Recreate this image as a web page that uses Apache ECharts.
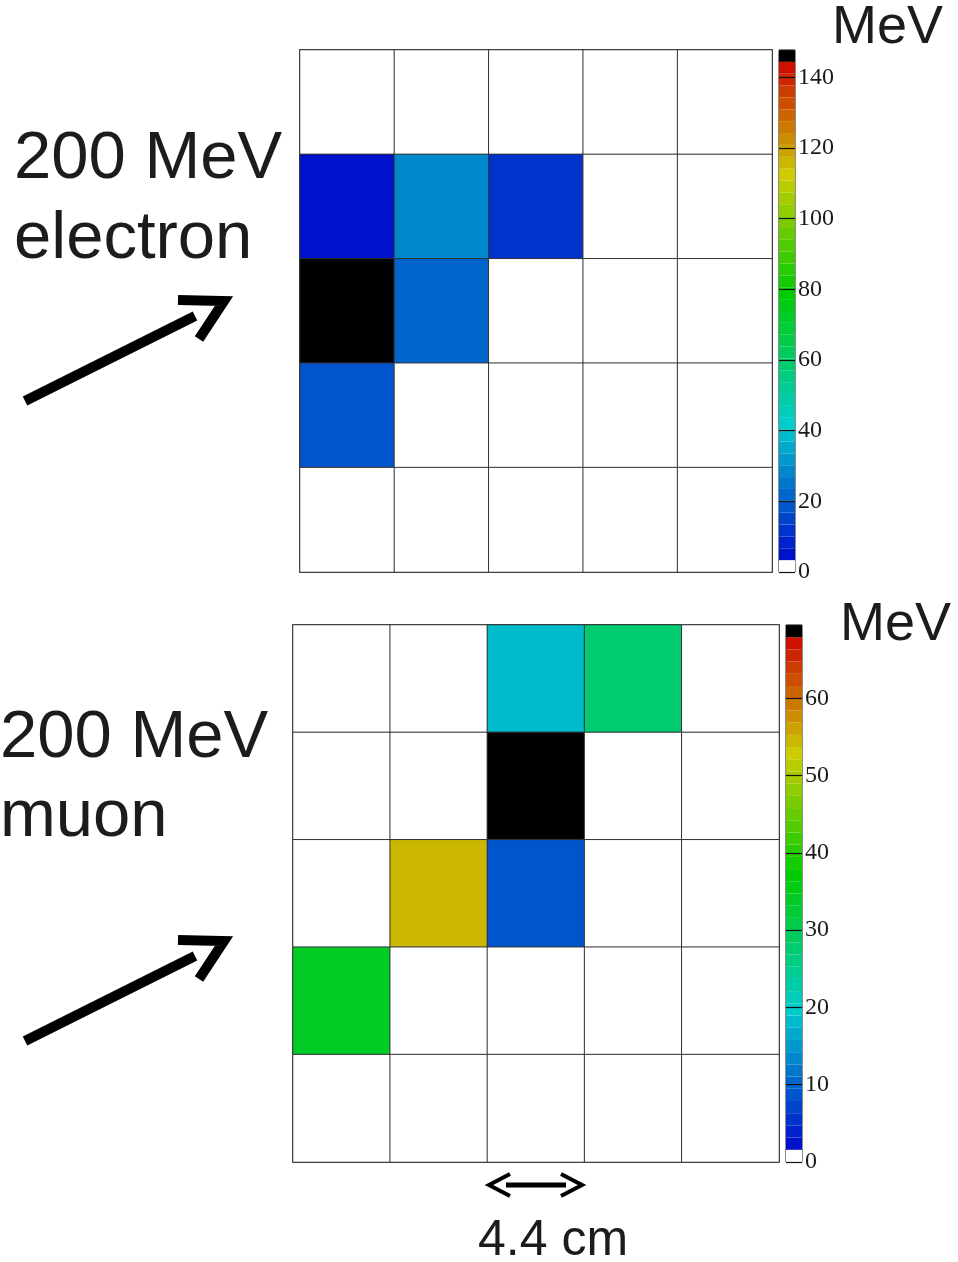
<!DOCTYPE html>
<html>
<head>
<meta charset="utf-8">
<script src="https://cdn.jsdelivr.net/npm/echarts@6/dist/echarts.min.js"></script>
<style>
  html, body { margin: 0; padding: 0; background: #ffffff; }
  #chart { width: 958px; height: 1262px; }
</style>
</head>
<body>
<div id="chart"></div>
<script>
// Calorimeter cells, 5 x 5, energy deposit in MeV (rows listed top to bottom)
const columns = ['1', '2', '3', '4', '5'];
const rows = ['1', '2', '3', '4', '5'];

const electronCells = [
  [0,     0,    0,  0, 0],
  [5,     28.5, 12, 0, 0],
  [147.7, 22,   0,  0, 0],
  [18,    0,    0,  0, 0],
  [0,     0,    0,  0, 0]
];

const muonCells = [
  [0,  0,    18.2, 27.6, 0],
  [0,  0,    69.5, 0,    0],
  [0,  54.5, 8.7,  0,    0],
  [34, 0,    0,    0,    0],
  [0,  0,    0,    0,    0]
];

const electronTicks = [0, 20, 40, 60, 80, 100, 120, 140];
const muonTicks = [0, 10, 20, 30, 40, 50, 60];

// ---- colour palette: white floor, blue -> cyan -> green -> yellow -> red, black top ----
const N_BANDS = 44;
function hsvToHex(h, s, v) {
  const c = v * s, hp = h / 60, x = c * (1 - Math.abs(hp % 2 - 1));
  let r = 0, g = 0, b = 0;
  if (hp < 1) { r = c; g = x; } else if (hp < 2) { r = x; g = c; }
  else if (hp < 3) { g = c; b = x; } else if (hp < 4) { g = x; b = c; }
  else if (hp < 5) { r = x; b = c; } else { r = c; b = x; }
  const m = v - c;
  const to = t => Math.round((t + m) * 255).toString(16).padStart(2, '0');
  return '#' + to(r) + to(g) + to(b);
}
// hue anchors along the colour bands
const hueStops = [[1, 235], [12, 180], [23, 120], [33, 60], [42, 5]];
function bandHue(k) {
  for (let i = 0; i < hueStops.length - 1; i++) {
    const [k0, h0] = hueStops[i], [k1, h1] = hueStops[i + 1];
    if (k <= k1) return h0 + (h1 - h0) * (k - k0) / (k1 - k0);
  }
  return hueStops[hueStops.length - 1][1];
}
const palette = [];
for (let k = 0; k < N_BANDS; k++) {
  if (k === 0) palette.push('#ffffff');
  else if (k === N_BANDS - 1) palette.push('#000000');
  else palette.push(hsvToHex(bandHue(k), 1, 0.8));
}

function maxOf(cells) { return Math.max(...cells.flat()); }
function bandsFor(maxVal) {
  const w = maxVal / N_BANDS, out = [];
  for (let k = 0; k < N_BANDS; k++) out.push([k * w, (k + 1) * w, k]);
  return out;
}
function piecesFor(maxVal) {
  const w = maxVal / N_BANDS;
  return palette.map((c, k) => {
    if (k === 0) return { lt: w, color: c };
    if (k === N_BANDS - 1) return { gte: k * w, color: c };
    return { gte: k * w, lt: (k + 1) * w, color: c };
  });
}
function heatData(cells) {
  const out = [];
  cells.forEach((row, r) => row.forEach((v, c) => out.push([c, r, v])));
  return out;
}

const electronMax = maxOf(electronCells);
const muonMax = maxOf(muonCells);

function bandRect(params, api) {
  const p0 = api.coord([0, api.value(0)]);
  const p1 = api.coord([1, api.value(1)]);
  return {
    type: 'rect',
    shape: { x: p0[0], y: p1[1], width: p1[0] - p0[0], height: p0[1] - p1[1] },
    style: { fill: palette[api.value(2)] }
  };
}

const gridLine = { show: true, lineStyle: { color: '#333333', width: 1 } };
function mapX(idx) {
  return { gridIndex: idx, type: 'category', data: columns, axisLabel: { show: false },
    axisTick: { show: false }, axisLine: { show: false }, splitLine: gridLine };
}
function mapY(idx) {
  return { gridIndex: idx, type: 'category', data: rows, inverse: true, axisLabel: { show: false },
    axisTick: { show: false }, axisLine: { show: false }, splitLine: gridLine };
}
function barX(idx) {
  return { gridIndex: idx, type: 'value', min: 0, max: 1, show: false };
}
// colour-bar scale: tick marks run across the bar as split lines drawn above the bands
function barY(idx, maxVal, ticks) {
  return {
    gridIndex: idx, type: 'value', min: 0, max: maxVal, interval: ticks[1] - ticks[0],
    position: 'right', z: 10,
    axisLine: { show: false },
    axisTick: { show: false },
    splitLine: { show: true, lineStyle: { color: '#111', width: 1.2 } },
    axisLabel: { show: true, customValues: ticks, margin: 3, color: '#1a1a1a',
      fontFamily: '"Liberation Serif", "DejaVu Serif", serif', fontSize: 24 }
  };
}

const sans = '"Liberation Sans", Arial, sans-serif';
const ink = '#1c1c1c';
function label(text, x, y, size) {
  return { type: 'text', x: x, y: y, silent: true,
    style: { text: text, fill: ink, font: size + 'px ' + sans, textAlign: 'left', textVerticalAlign: 'middle' } };
}
function stroke(points, width) {
  return { type: 'polyline', silent: true, shape: { points: points },
    style: { stroke: '#000', lineWidth: width, fill: null, lineJoin: 'miter', lineCap: 'butt' } };
}

const chart = echarts.init(document.getElementById('chart'), null, { renderer: 'canvas' });
chart.setOption({
  animation: false,
  backgroundColor: '#ffffff',
  grid: [
    { left: 300, top: 50, width: 472, height: 522, show: true, borderColor: '#1a1a1a', borderWidth: 1.5, backgroundColor: 'transparent' },
    { left: 779, top: 50, width: 16, height: 522, show: true, borderColor: '#1a1a1a', borderWidth: 1, backgroundColor: 'transparent' },
    { left: 293, top: 625, width: 486, height: 537, show: true, borderColor: '#1a1a1a', borderWidth: 1.5, backgroundColor: 'transparent' },
    { left: 786, top: 625, width: 16, height: 537, show: true, borderColor: '#1a1a1a', borderWidth: 1, backgroundColor: 'transparent' }
  ],
  xAxis: [mapX(0), barX(1), mapX(2), barX(3)],
  yAxis: [mapY(0), barY(1, electronMax, electronTicks), mapY(2), barY(3, muonMax, muonTicks)],
  visualMap: [
    { type: 'piecewise', show: false, seriesIndex: 0, dimension: 2, pieces: piecesFor(electronMax) },
    { type: 'piecewise', show: false, seriesIndex: 2, dimension: 2, pieces: piecesFor(muonMax) }
  ],
  series: [
    { type: 'heatmap', xAxisIndex: 0, yAxisIndex: 0, data: heatData(electronCells),
      itemStyle: { borderColor: '#333333', borderWidth: 1 }, emphasis: { disabled: true } },
    { type: 'custom', xAxisIndex: 1, yAxisIndex: 1, data: bandsFor(electronMax),
      renderItem: bandRect, silent: true, z: 1 },
    { type: 'heatmap', xAxisIndex: 2, yAxisIndex: 2, data: heatData(muonCells),
      itemStyle: { borderColor: '#333333', borderWidth: 1 }, emphasis: { disabled: true } },
    { type: 'custom', xAxisIndex: 3, yAxisIndex: 3, data: bandsFor(muonMax),
      renderItem: bandRect, silent: true, z: 1 }
  ],
  graphic: [
    label('MeV', 832, 28, 54),
    label('MeV', 840, 625, 54),
    label('200 MeV', 14, 160, 67),
    label('electron', 14, 240, 67),
    label('200 MeV', 0, 739, 67),
    label('muon', 0, 818, 67),
    label('4.4 cm', 478, 1241, 50),
    // incoming particle direction
    stroke([[25, 401], [195, 316]], 10),
    stroke([[178, 300], [224, 301], [199, 339]], 10),
    stroke([[25, 1041], [195, 956]], 10),
    stroke([[178, 940], [224, 941], [199, 979]], 10),
    // cell-width scale marker
    stroke([[506, 1185], [566, 1185]], 5),
    stroke([[510, 1174], [489, 1185], [510, 1196]], 4),
    stroke([[561, 1174], [582, 1185], [561, 1196]], 4)
  ]
});
</script>
</body>
</html>
